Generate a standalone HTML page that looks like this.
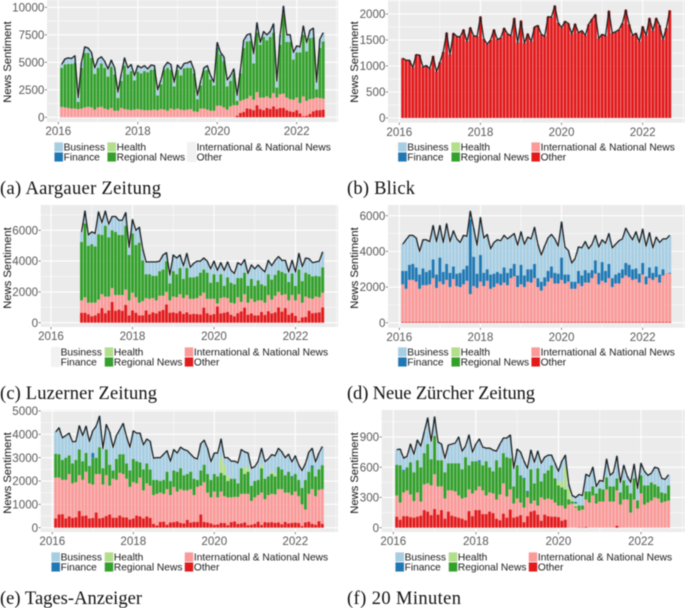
<!DOCTYPE html>
<html lang="en">
<head>
<meta charset="utf-8">
<title>News Sentiment by outlet</title>
<style>
html,body{margin:0;padding:0;background:#fff;width:685px;height:608px;overflow:hidden}
svg{display:block;filter:blur(0.45px)}
text{font-family:"Liberation Sans",Arial,sans-serif}
.cap{font-family:"Liberation Serif",serif;font-size:18.5px;fill:#111}
</style>
</head>
<body>
<svg id="chart" xmlns="http://www.w3.org/2000/svg" width="685" height="608" viewBox="0 0 685 608">
  <text class="cap" x="0" y="194" textLength="161">(a) Aargauer Zeitung</text>
  <text class="cap" x="347" y="194" textLength="68">(b) Blick</text>
  <text class="cap" x="0" y="399" textLength="157">(c) Luzerner Zeitung</text>
  <text class="cap" x="347" y="399" textLength="188">(d) Neue Zürcher Zeitung</text>
  <text class="cap" x="0" y="604" textLength="142">(e) Tages-Anzeiger</text>
  <text class="cap" x="347" y="604" textLength="114">(f) 20 Minuten</text>
</svg>
<script>
// Shared tick labels and legend entries
const xTickYears = [2016, 2018, 2020, 2022];
const legendLabels = ["Business", "Finance", "Health", "Regional News", "International & National News", "Other"];
const legendColors = ["#A6CEE3", "#1F78B4", "#B2DF8A", "#33A02C", "#FB9A99", "#E31A1C"];

// Panel (a) Aargauer Zeitung: stack boundaries, months 1..80 after Jan 2016
const aYTicks = [0, 2500, 5000, 7500, 10000];
const aOtherTop = [
0,0,0,0,0,0,0,0,0,0,0,0,0,0,0,0,0,0,0,0,0,0,0,0,0,0,0,0,0,0,0,0,0,0,0,0,0,0,0,0,0,0,0,0,0,0,0,0,0,0,0,0,0,
150,400,500,800,750,650,1100,750,650,850,750,1000,750,850,850,650,550,500,650,350,100,150,300,550,650,650,700];
const aIntlTop = [
950,900,850,800,800,750,800,900,950,900,700,
900,950,800,700,850,600,600,850,750,700,650,700,
750,700,650,650,650,700,650,750,700,600,800,700,
800,700,650,700,750,550,500,800,800,700,600,600,
1050,1050,900,700,1000,1100,1100,1500,1600,1700,1950,1600,
2300,1800,1800,1900,1750,2200,1800,2100,2150,1800,1650,1600,
1800,1300,1900,1500,1650,1700,1800,1750,1700];
const aRegionalTop = [
4500,4800,4850,4850,4950,1400,4500,5850,5850,5400,3950,
4500,4900,4500,3700,4600,3900,1750,3300,4700,3900,4200,3350,
4150,4000,4200,4100,4300,4350,2000,3000,4300,4500,4300,2800,
4300,3800,4450,4500,4500,4000,1650,2900,4250,4300,3450,2900,
6200,5600,5000,2800,3300,3950,1500,4000,6300,6900,6950,4900,
7700,6600,7300,7000,7300,7700,2700,6600,9400,6850,6850,5250,
5900,5900,7500,6000,7200,7250,2550,6300,6900];
const aTotal = [
4800,5300,5400,5350,5600,1800,5000,6400,6300,5900,4500,
5300,5500,5100,4400,5200,4500,2300,3900,5400,4500,4800,3800,
4700,4500,4700,4400,4750,4700,2500,3400,4600,5000,4800,3200,
4750,4400,4900,4950,5100,4300,2000,3300,4500,4700,3800,3200,
6800,5900,5500,3400,3800,4400,2000,4300,7000,7500,7600,5800,
8600,6800,7800,7500,7800,8500,3300,7500,10100,7500,7500,5900,
6500,6400,8300,6800,7900,8100,3200,7100,7700];
const aFinanceMonths = [48, 49, 50, 53];
const aFinanceValues = [120, 130, 110, 60];

// Panel (b) Blick
const bYTicks = [0, 500, 1000, 1500, 2000];
const bTotal = [
1150,1110,1110,970,1220,1210,980,1010,950,1190,890,
1070,1270,1640,1220,1630,1570,1560,1700,1470,1740,1580,1570,
1950,1520,1420,1500,1700,1510,1540,1730,1620,1580,1920,1450,
1870,1440,1620,1470,1750,1780,1610,1570,1950,1940,2160,1830,
1740,1860,1820,1620,1810,1640,1680,1590,1800,1900,1990,1530,
1610,1580,2060,1630,1660,1700,1820,2080,1800,1590,1630,1470,
1760,1590,1920,1680,1920,1780,1510,1730,2070];
const bOtherTop = bTotal;

// Panel (c) Luzerner Zeitung: months 9..80
const cYTicks = [0, 2000, 4000, 6000];
const cOtherTop = [
650,650,550,420,470,620,950,620,800,1350,780,850,780,1150,480,
800,650,480,480,800,550,680,600,750,830,1180,650,
680,620,750,580,680,550,580,560,530,980,620,500,
560,1050,600,650,700,520,420,620,730,980,520,600,
480,480,700,500,750,600,680,1000,720,950,520,640,
450,120,350,370,780,620,650,680,1000];
const cIntlTop = [
1450,1650,1300,1300,1300,1500,1850,1700,1700,2250,1800,1800,1800,2150,1450,
1950,1650,1300,1400,1600,1550,1600,1450,1750,1750,2000,1450,
1700,1650,1850,1600,1800,1550,1550,1600,1750,1950,1550,1550,
1550,1250,1600,1650,1600,1300,1250,1650,1350,1850,1300,1550,
1350,1450,1450,1300,1800,1500,1750,2000,1800,1850,1450,1800,
1450,1850,1300,1700,1600,1550,1700,1650,1950];
const cRegionalTop = [
5250,6450,5000,5100,4950,5750,5700,6300,5550,6000,5900,5700,5700,6300,4400,
5800,5050,5200,4050,3150,3150,3050,3050,3350,3450,4000,2550,
3350,3150,3550,2850,3550,2950,2950,3000,3250,3450,3250,2600,
3150,2650,3150,2400,2950,2600,2500,2900,2900,3250,2400,2850,
2400,2750,2500,2400,3150,2800,3100,3400,3300,3200,2650,3200,
2400,3450,2700,3250,3150,3000,3050,3000,3600];
const cTotal = [
5900,7250,5700,5900,5800,7200,6500,7250,6400,6900,6900,6650,6650,7150,4900,
6700,6000,6200,4800,3950,3950,3950,3950,4000,4400,4550,3100,
4400,4200,4400,3700,4500,3600,3850,4000,4000,4200,4000,3500,
4000,3400,3900,3400,3950,3400,3200,3900,3750,4100,3200,3750,
3500,3750,3500,3300,4050,3700,4050,4300,4050,4050,3300,4050,
3300,4500,3650,4200,4150,3900,3950,4000,4600];

// Panel (d) Neue Zuercher Zeitung
const dYTicks = [0, 2000, 4000, 6000];
const dOtherTop = [
40,40,40,40,40,40,40,40,40,40,40,40,40,40,40,40,40,40,40,40,
40,40,40,40,40,40,40,40,40,40,40,40,40,40,40,40,40,40,40,40,
40,40,40,40,40,40,40,40,40,40,40,40,40,40,40,40,40,40,40,40,
40,40,40,40,40,40,40,40,40,40,40,40,40,40,40,40,40,40,40,40];
const dIntlTop = [
2150,1900,2400,2400,2300,1900,2100,2100,2150,2500,1950,
2300,2150,2400,2000,2450,2050,2000,2150,2350,1600,2050,1950,
2300,2050,2350,1900,2000,2200,2100,2250,2100,2500,2600,2000,
2150,2000,2300,2250,2500,2000,1800,2050,2300,2500,2200,2200,
2400,2200,2300,1900,1900,2200,2050,2250,2250,2500,2750,2150,
2350,2250,2500,2000,2200,2200,2500,2650,2550,2400,2450,2250,
2700,2150,2500,2400,2550,2250,2650,2800,2750];
const dFinanceTop = [
2900,2900,3250,3300,3100,2700,3050,2850,2950,3550,2700,
3650,2850,3300,2800,3150,2750,2800,3000,3200,5800,3700,2750,
3800,2800,3000,2700,2750,2850,2750,3100,2800,3050,3300,2650,
3250,2650,3000,3000,3300,2500,2300,2550,2900,3150,2800,2750,
3650,2700,2700,2300,2300,2900,2650,2950,2800,2950,3500,2800,
3400,2900,3300,2500,2700,2800,3000,3350,3250,3000,3050,2750,
3350,2600,3100,2800,3150,2700,3000,2800,2800];
const dTotal = [
4400,4650,4900,4900,4750,4000,4650,4650,4550,5450,4550,
5450,4500,5550,4550,5150,4700,4500,4900,4850,6250,5300,4350,
5900,4750,4950,4150,4500,4650,4600,4900,4700,4850,5000,4350,
5100,4400,4800,4700,5350,4400,3800,4300,4750,4950,4700,4300,
5650,4250,4050,3350,3600,4250,4200,4550,4150,4400,4900,4250,
4650,4450,5000,4200,4400,4600,4700,5300,4950,4650,5100,4500,
5250,4300,5050,4200,4800,4500,4700,4700,4900];

// Panel (e) Tages-Anzeiger
const eYTicks = [0, 1000, 2000, 3000, 4000, 5000];
const eOtherTop = [
400,570,580,400,480,420,450,720,500,520,400,
420,650,400,430,500,570,430,430,520,450,440,350,
400,520,480,400,480,420,170,100,250,260,130,230,
240,270,210,180,330,220,250,250,570,250,220,180,
130,140,210,200,110,240,270,160,190,230,110,130,
170,260,120,240,220,240,210,230,150,250,180,210,
220,200,70,230,260,170,130,280,170];
const eIntlTop = [
2150,2150,2050,2050,2300,1900,1950,2250,2050,2400,1900,
1850,2300,2300,1850,2250,1800,2100,2050,2350,2300,2100,1750,
1950,1900,2150,1600,1900,1800,1400,1450,1500,1450,1650,1400,
1750,1550,1650,1600,1600,1650,1400,1750,1800,1950,1500,1300,
1550,1300,1550,1350,1300,1300,1320,1320,1450,1450,1450,1150,
1300,1400,1500,1220,1400,1450,1430,1650,1650,1500,1500,1400,
1550,1350,1000,780,1450,1650,1350,1620,1650];
const eRegionalTop = [
3170,3150,2900,3000,3100,2750,2900,3350,2850,3200,2650,
3000,3000,3450,2550,3350,2700,2450,2950,3150,3150,2750,2450,
2950,2850,2800,2500,2750,2500,2050,2050,2000,2050,2400,2000,
2450,2400,2550,2250,2300,2400,2100,2050,2450,2700,2300,2050,
2300,2200,2350,2250,2000,2100,2100,1900,2550,2300,2400,1800,
2000,2050,2550,2100,2200,2300,2200,2600,2500,2250,2400,2150,
2300,2050,1700,2050,2400,2600,2200,2500,2680];
const eTotal = [
4100,4280,3850,3950,4050,3680,3700,4370,3950,4350,3700,
4150,4350,4780,3400,4420,4100,3450,3950,4200,4470,3900,3450,
4150,4050,4050,3550,3800,3700,2980,3000,3000,3150,3300,2850,
3350,3200,3450,3350,3300,3150,3000,2950,3600,3750,3400,2830,
3200,3200,3800,3000,3000,2850,2850,2780,3350,3250,3200,2550,
2620,2850,3400,2830,2950,3130,3080,3400,3250,3000,3150,2820,
3080,2700,2450,2750,3230,3400,2820,3200,3480];
const eHealthMonths = [50, 51, 52, 57, 58, 62, 65, 66];
const eHealthValues = [650, 450, 250, 300, 200, 150, 120, 120];
const eFinanceMonths = [12, 71, 77];
const eFinanceValues = [200, 60, 70];

// Panel (f) 20 Minuten
const fYTicks = [0, 300, 600, 900];
const fOtherTop = [
110,80,115,115,105,100,110,120,175,160,125,
185,130,175,90,160,120,110,100,90,75,165,115,
175,175,135,135,160,145,90,75,140,100,180,100,
110,125,55,115,160,170,130,70,130,115,110,110,
105,70,80,0,0,0,5,5,8,0,0,0,
0,0,0,0,0,20,0,0,0,0,0,0,
0,0,0,0,0,0,0,0,0];
const fIntlTop = [
320,250,350,370,330,265,350,260,430,440,420,
530,410,410,290,370,370,360,320,290,300,380,340,
370,410,370,320,350,340,280,330,440,310,380,240,
290,250,200,300,240,270,220,300,280,290,280,250,
220,220,190,230,240,200,170,180,280,250,320,240,
260,260,380,260,260,370,230,280,280,150,280,190,
340,230,250,270,300,290,250,260,270];
const fRegionalTop = [
625,620,560,600,650,550,670,600,740,830,680,
910,670,670,550,640,640,640,640,580,700,620,660,
660,650,620,660,600,560,670,600,740,700,690,410,
620,520,480,350,580,440,590,460,540,570,620,490,
420,400,380,280,260,210,220,220,360,360,410,340,
390,380,500,410,410,490,350,470,420,340,490,270,
520,420,420,450,430,410,350,340,420];
const fTotal = [
775,780,690,710,830,730,870,810,950,1090,860,
1100,850,830,690,820,830,840,900,760,810,920,750,
830,880,800,790,790,770,760,830,890,890,920,590,
780,750,660,590,770,650,760,640,700,720,720,640,
560,660,720,430,320,300,330,320,530,510,600,410,
470,460,680,520,550,710,450,620,510,450,630,390,
640,560,520,540,600,590,490,480,525];
const fHealthMonths = [48, 49, 50, 51, 52, 53];
const fHealthValues = [40, 60, 230, 110, 30, 30];
const fFinanceMonths = [3, 25, 38, 39, 53];
const fFinanceValues = [15, 20, 15, 15, 15];

const SVG_NS = "http://www.w3.org/2000/svg";
const root = document.getElementById("chart");

function make(tag, attrs, parent) {
  const el = document.createElementNS(SVG_NS, tag);
  for (const k in attrs) el.setAttribute(k, attrs[k]);
  (parent || root).appendChild(el);
  return el;
}
function expand(months, values) {
  const out = {};
  (months || []).forEach(function (m, i) { out[m] = values[i]; });
  return out;
}

function drawPanel(p) {
  const group = make("g", {});
  
  

  const monthPx = (p.x2022 - p.x2016) / 72;
  const xScale = function (m) { return p.x2016 + m * monthPx; };
  const yUnit = (p.y0 - p.yRefPx) / p.yRefValue;
  const yScale = function (v) { return p.y0 - v * yUnit; };

  const bg = make("rect", { x: p.left, y: p.top, width: p.right - p.left, height: p.bottom - p.top, fill: "#EBEBEB" }, group);
  
  

  // minor grid
  const yStep = p.yTicks[1] - p.yTicks[0];
  for (let v = -yStep / 2; yScale(v) >= p.top; v += yStep) {
    const yy = yScale(v);
    if (yy > p.bottom) continue;
    const gl = make("line", { x1: p.left, x2: p.right, y1: yy, y2: yy, stroke: "#fff", "stroke-width": 0.5 }, group);
    
    
  }
  for (let yr = 2015; yr <= 2023; yr += 2) {
    const xx = xScale((yr - 2016) * 12);
    if (xx < p.left || xx > p.right) continue;
    const gl = make("line", { x1: xx, x2: xx, y1: p.top, y2: p.bottom, stroke: "#fff", "stroke-width": 0.5 }, group);
    
    
  }
  // major grid + ticks + labels
  p.yTicks.forEach(function (v) {
    const yy = yScale(v);
    const gl = make("line", { x1: p.left, x2: p.right, y1: yy, y2: yy, stroke: "#fff", "stroke-width": 1.1 }, group);
    
    
    const tk = make("line", { x1: p.left - 2.2, x2: p.left, y1: yy, y2: yy, stroke: "#555", "stroke-width": 0.7 }, group);
    
    
    const tl = make("text", { x: p.left - 2.6, y: yy + 4.1, "text-anchor": "end", "font-size": 11.6, fill: "#5a5a5a" }, group);
    
    
    tl.textContent = String(v);
  });
  xTickYears.forEach(function (yr) {
    const xx = xScale((yr - 2016) * 12);
    const gl = make("line", { x1: xx, x2: xx, y1: p.top, y2: p.bottom, stroke: "#fff", "stroke-width": 1.1 }, group);
    
    
    const tk = make("line", { x1: xx, x2: xx, y1: p.bottom, y2: p.bottom + 2.2, stroke: "#555", "stroke-width": 0.7 }, group);
    
    
    const tl = make("text", { x: xx, y: p.bottom + 13.2, "text-anchor": "middle", "font-size": 11.6, fill: "#5a5a5a" }, group);
    
    
    tl.textContent = String(yr);
  });

  const title = make("text", { transform: "translate(" + p.titleX + "," + p.titleY + ") rotate(-90)", "text-anchor": "middle", "font-size": 11.2, fill: "#111" }, group);
  
  
  title.textContent = "News Sentiment";

  // stacked bars
  const healthExtra = expand(p.healthMonths, p.healthValues);
  const financeExtra = expand(p.financeMonths, p.financeValues);
  const barW = monthPx * 0.86;
  const points = [];
  p.total.forEach(function (tot, i) {
    const m = p.first + i;
    const oT = p.otherTop ? p.otherTop[i] : 0;
    const iT = p.intlTop ? p.intlTop[i] : oT;
    const rT = p.regionalTop ? p.regionalTop[i] : iT;
    const hT = rT + (healthExtra[m] || 0);
    const fT = p.financeTop ? p.financeTop[i] : hT + (financeExtra[m] || 0);
    const bands = [
      [0, oT, legendColors[5], "bar-other"],
      [oT, iT, legendColors[4], "bar-international-national"],
      [iT, rT, legendColors[3], "bar-regional"],
      [rT, hT, legendColors[2], "bar-health"],
      [hT, fT, legendColors[1], "bar-finance"],
      [fT, tot, legendColors[0], "bar-business"]
    ];
    const cx = xScale(m);
    bands.forEach(function (b) {
      if (b[1] <= b[0]) return;
      const r = make("rect", { x: cx - barW / 2, y: yScale(b[1]), width: barW, height: yScale(b[0]) - yScale(b[1]), fill: b[2] }, group);
      
      
    });
    points.push(cx.toFixed(2) + "," + yScale(tot).toFixed(2));
  });
  const line = make("polyline", { points: points.join(" "), fill: "none", stroke: "#1c1c1c", "stroke-width": 1.25, "stroke-linejoin": "round" }, group);
  
  

  // legend
  const legendCols = [
    [p.legendX[0], [0, 1]],
    [p.legendX[1], [2, 3]],
    [p.legendX[2], [4, 5]]
  ];
  legendCols.forEach(function (col) {
    col[1].forEach(function (s, row) {
      const yy = p.legendY + row * 10;
      const bgKey = make("rect", { x: col[0], y: yy, width: 9.4, height: 10, fill: "#F2F2F2" }, group);
      
      
      if (p.greyKeys.indexOf(s) < 0) {
        const key = make("rect", { x: col[0] + 0.5, y: yy + 0.5, width: 8.4, height: 9, fill: legendColors[s] }, group);
        
        
      }
      const lab = make("text", { x: col[0] + 9.6, y: yy + 8.6, "font-size": 10.2, fill: "#1a1a1a" }, group);
      
      
      lab.textContent = legendLabels[s];
    });
  });
}

drawPanel({ slug: "aargauer-zeitung", first: 1, left: 47, right: 338, top: 0, bottom: 122, x2016: 58.3, x2022: 296.7, y0: 117.3, yRefPx: 7.3, yRefValue: 10000,
  yTicks: aYTicks, otherTop: aOtherTop, intlTop: aIntlTop, regionalTop: aRegionalTop, financeMonths: aFinanceMonths, financeValues: aFinanceValues, total: aTotal,
  titleX: 11, titleY: 62, legendX: [54, 107, 187], legendY: 142, greyKeys: [4, 5] });

drawPanel({ slug: "blick", first: 1, left: 388, right: 685, top: 0, bottom: 122.7, x2016: 399.3, x2022: 642.7, y0: 118, yRefPx: 14, yRefValue: 2000,
  yTicks: bYTicks, otherTop: bOtherTop, total: bTotal,
  titleX: 358, titleY: 62, legendX: [397.7, 451, 531], legendY: 142, greyKeys: [] });

drawPanel({ slug: "luzerner-zeitung", first: 9, left: 40.7, right: 338, top: 205, bottom: 327, x2016: 51, x2022: 295.5, y0: 322.7, yRefPx: 230.3, yRefValue: 6000,
  yTicks: cYTicks, otherTop: cOtherTop, intlTop: cIntlTop, regionalTop: cRegionalTop, total: cTotal,
  titleX: 11, titleY: 268, legendX: [51, 104.3, 184.3], legendY: 347, greyKeys: [0, 1] });

drawPanel({ slug: "neue-zuercher-zeitung", first: 1, left: 388, right: 685, top: 205, bottom: 327.7, x2016: 399.3, x2022: 642.7, y0: 322.7, yRefPx: 215.7, yRefValue: 6000,
  yTicks: dYTicks, otherTop: dOtherTop, intlTop: dIntlTop, financeTop: dFinanceTop, total: dTotal,
  titleX: 358, titleY: 268, legendX: [397.7, 451, 531], legendY: 347, greyKeys: [] });

drawPanel({ slug: "tages-anzeiger", first: 1, left: 40.7, right: 338, top: 410, bottom: 532, x2016: 52.3, x2022: 295.3, y0: 527.7, yRefPx: 411, yRefValue: 5000,
  yTicks: eYTicks, otherTop: eOtherTop, intlTop: eIntlTop, regionalTop: eRegionalTop, healthMonths: eHealthMonths, healthValues: eHealthValues, financeMonths: eFinanceMonths, financeValues: eFinanceValues, total: eTotal,
  titleX: 11, titleY: 473, legendX: [51, 104.3, 184.3], legendY: 552, greyKeys: [] });

drawPanel({ slug: "20-minuten", first: 1, left: 381.7, right: 685, top: 410, bottom: 532, x2016: 393.3, x2022: 641, y0: 527.7, yRefPx: 437, yRefValue: 900,
  yTicks: fYTicks, otherTop: fOtherTop, intlTop: fIntlTop, regionalTop: fRegionalTop, healthMonths: fHealthMonths, healthValues: fHealthValues, financeMonths: fFinanceMonths, financeValues: fFinanceValues, total: fTotal,
  titleX: 358, titleY: 473, legendX: [395, 448.3, 528.3], legendY: 552, greyKeys: [] });
</script>
</body>
</html>
